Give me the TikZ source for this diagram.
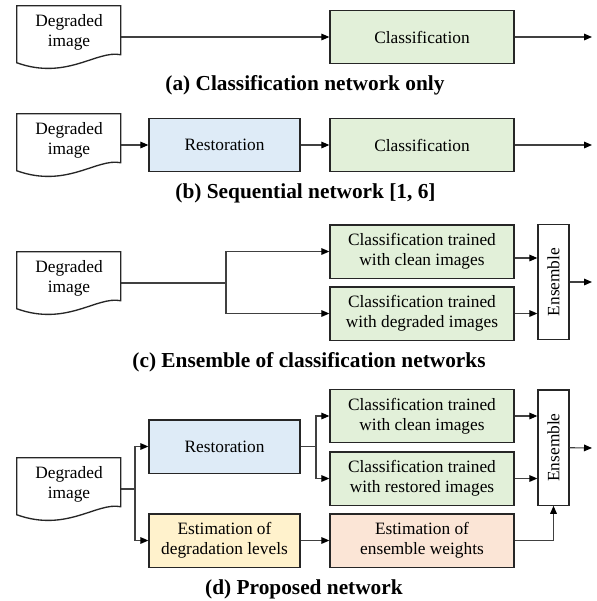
\documentclass[tikz,border=0pt]{standalone}
\usepackage{fontspec}
\usepackage{graphicx}
\setmainfont{Liberation Serif}
\usetikzlibrary{arrows.meta,calc}
\definecolor{clsgreen}{HTML}{E2F0D9}
\definecolor{restblue}{HTML}{DEEBF7}
\definecolor{estyellow}{HTML}{FFF2CC}
\definecolor{estorange}{HTML}{FBE5D6}
\definecolor{boxline}{HTML}{262626}
\definecolor{lineclr}{HTML}{404040}
\begin{document}
\begin{tikzpicture}[x=0.75pt,y=-0.75pt,
  box/.style={draw=boxline, line width=1pt, inner sep=0pt, align=center,
    font=\fontsize{13}{15}\selectfont},
  cls/.style={box, fill=clsgreen, minimum width=138pt, minimum height=40pt},
  rest/.style={box, fill=restblue, minimum width=113.25pt, minimum height=40pt},
  estdeg/.style={box, fill=estyellow, minimum width=113.25pt, minimum height=40pt},
  estw/.style={box, fill=estorange, minimum width=138pt, minimum height=40pt},
  ens/.style={box, fill=white, minimum width=23.25pt, minimum height=86.5pt},
  docbox/.style={inner sep=0pt, minimum width=78pt, minimum height=46.5pt},
  doctext/.style={align=center, inner sep=0pt, font=\fontsize{13}{15}\selectfont},
  docline/.style={draw=boxline, line width=1pt},
  title/.style={font=\fontsize{16}{18}\selectfont\bfseries, inner sep=0pt},
  conn/.style={draw=lineclr, line width=0.8pt},
  arr/.style={conn, -{Triangle[length=6pt,width=5pt,color=black]}}
]
\useasboundingbox (0,0) rectangle (597,601);

% ---------- (a) ----------
\node[docbox] (d1) at (69,37) {};
\node[doctext] (d1t) at ($(d1.center)+(0,-4.5)$) {Degraded\\image};
\node[cls] (cls1) at (422,37) {Classification};
\coordinate (o1) at (592,37);
\draw[arr] (d1) -- (cls1);
\draw[arr] (cls1) -- (o1);
\node[title] (t1) at (305,85) {(a) Classification network only};

% ---------- (b) ----------
\node[docbox] (d2) at (69,145) {};
\node[doctext] (d2t) at ($(d2.center)+(0,-4.5)$) {Degraded\\image};
\node[rest] (rest2) at (224.5,145) {Restoration};
\node[cls] (cls2) at (422,145) {Classification};
\coordinate (o2) at (592,145);
\draw[arr] (d2) -- (rest2);
\draw[arr] (rest2) -- (cls2);
\draw[arr] (cls2) -- (o2);
\node[title] (t2) at (305.5,193) {(b) Sequential network [1, 6]};

% ---------- (c) ----------
\node[docbox] (d3) at (69,283) {};
\node[doctext] (d3t) at ($(d3.center)+(0,-4.5)$) {Degraded\\image};
\coordinate (j3) at (226,283);
\node[cls] (cls3a) at (422,251.5) {Classification trained\\with clean images};
\node[cls] (cls3b) at (422,313.5) {Classification trained\\with degraded images};
\node[ens] (e3) at (553.5,282) {\rotatebox{90}{Ensemble}};
\coordinate (o3) at (592,282);
\coordinate (c3a) at ($(cls3a.east)+(0,6.5)$);
\draw[conn] (d3) -- (j3);
\draw[arr] (j3) |- (cls3a);
\draw[arr] (j3) |- (cls3b);
\draw[arr] (c3a) -- (c3a -| e3.west);
\draw[arr] (cls3b.east) -- (cls3b.east -| e3.west);
\draw[arr] (e3) -- (o3);
\node[title] (t3) at (309,362) {(c) Ensemble of classification networks};

% ---------- (d) ----------
\node[docbox] (d4) at (69,489) {};
\node[doctext] (d4t) at ($(d4.center)+(0,-4.5)$) {Degraded\\image};
\coordinate (j4a) at (135,489);
\node[rest] (rest4) at (224.5,446.5) {Restoration};
\node[estdeg] (est4a) at (224.5,540.5) {Estimation of\\degradation levels};
\coordinate (j4b) at (316,446.5);
\node[cls] (cls4a) at (422,416) {Classification trained\\with clean images};
\node[cls] (cls4b) at (422,478.5) {Classification trained\\with restored images};
\node[estw] (est4b) at (422,540.5) {Estimation of\\ensemble weights};
\node[ens] (e4) at (553.5,447.5) {\rotatebox{90}{Ensemble}};
\coordinate (o4) at (592,448);
\draw[conn] (d4) -- (j4a);
\draw[arr] (j4a) |- (rest4);
\draw[arr] (j4a) |- (est4a);
\draw[conn] (rest4) -- (j4b);
\draw[arr] (j4b) |- (cls4a);
\draw[arr] (j4b) |- (cls4b);
\draw[arr] (est4a) -- (est4b);
\draw[arr] (cls4a.east) -- (cls4a.east -| e4.west);
\draw[arr] (cls4b.east) -- (cls4b.east -| e4.west);
\draw[arr] (e4) -- (o4);
\draw[arr] (est4b.east) -| (e4.south);
\node[title] (t4) at (304,589) {(d) Proposed network};

% ---------- document outlines ----------
\foreach \d in {d1,d2,d3,d4}
  \draw[docline, shift={(\d.north west)}] (0,0) -- (104,0) -- (104,49)
    .. controls (80,44) and (50,75) .. (0,57) -- cycle;
\end{tikzpicture}
\end{document}
